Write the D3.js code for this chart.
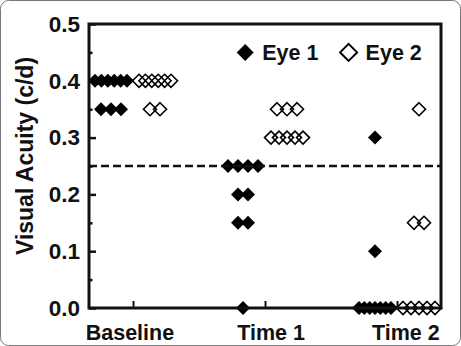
<!DOCTYPE html>
<meta charset="utf-8">
<style>
body { margin: 0; background: #fff; }
svg { display: block; }
text { font-family: "Liberation Sans", Arial, sans-serif; font-weight: bold; fill: #111; }
</style>
<body>
<script src="https://d3js.org/d3.v7.min.js"></script>
<script>

// groups along the x axis
var categories = ["Baseline", "Time 1", "Time 2"];
var categoryPos = [1, 4, 7];

// visual acuity (c/d) per eye, one list per time point
var eye1 = [
  [0.4, 0.4, 0.4, 0.4, 0.4, 0.4, 0.35, 0.35, 0.35],
  [0.25, 0.25, 0.25, 0.25, 0.2, 0.2, 0.15, 0.15, 0.0],
  [0.3, 0.1, 0.0, 0.0, 0.0, 0.0, 0.0, 0.0, 0.0]
];
var eye2 = [
  [0.4, 0.4, 0.4, 0.4, 0.4, 0.4, 0.35, 0.35],
  [0.35, 0.35, 0.35, 0.3, 0.3, 0.3, 0.3, 0.3],
  [0.35, 0.15, 0.15, 0.0, 0.0, 0.0, 0.0, 0.0]
];

var threshold = 0.25;
var yTicks = [0, 0.1, 0.2, 0.3, 0.4, 0.5];
var yMinor = [0.05, 0.15, 0.25, 0.35, 0.45];

var width = 461, height = 346;
var margin = {top: 24, right: 20, bottom: 38, left: 89};

var svg = d3.select("body").append("svg")
    .attr("width", width)
    .attr("height", height);

// thin border round the picture
svg.append("rect")
    .attr("x", 0.5).attr("y", 0.5)
    .attr("width", width - 1).attr("height", height - 1)
    .attr("rx", 8)
    .attr("fill", "none")
    .attr("stroke", "#777");

var x = d3.scaleLinear().domain([0, 8]).range([margin.left, width - margin.right]);
var y = d3.scaleLinear().domain([0, 0.5]).range([height - margin.bottom, margin.top]);

var diamond = function(r) {
  return "M0," + (-r) + "L" + r + ",0L0," + r + "L" + (-r) + ",0Z";
};

// spread equal values side by side round the group centre
function layout(groups, shift) {
  var pts = [];
  groups.forEach(function(vals, gi) {
    var byVal = d3.group(vals, function(v) { return v; });
    byVal.forEach(function(list, v) {
      var n = list.length;
      var step = n > 1 ? Math.min(10, 32 / (n - 1)) : 0;
      list.forEach(function(_, i) {
        pts.push({
          cx: x(categoryPos[gi] + shift) + (i - (n - 1) / 2) * step,
          cy: y(v)
        });
      });
    });
  });
  return pts;
}

// y axis, major and minor ticks pointing inward
var yAxis = d3.axisLeft(y)
    .tickValues(yTicks)
    .tickSize(-7)
    .tickPadding(9)
    .tickFormat(d3.format(".1f"));

var gy = svg.append("g")
    .attr("transform", "translate(" + x(0) + ",0)")
    .call(yAxis);
gy.select(".domain").remove();
gy.selectAll(".tick line").attr("stroke", "#111").attr("stroke-width", 2.5);
gy.selectAll(".tick text").attr("font-size", 22.5).attr("font-family", null);

var gyMinor = svg.append("g")
    .attr("transform", "translate(" + x(0) + ",0)")
    .call(d3.axisLeft(y).tickValues(yMinor).tickSize(-3.5).tickFormat(""));
gyMinor.select(".domain").remove();
gyMinor.selectAll(".tick line").attr("stroke", "#111").attr("stroke-width", 2.5);

// x axis ticks
var gx = svg.append("g")
    .attr("transform", "translate(0," + y(0) + ")")
    .call(d3.axisBottom(x).tickValues(categoryPos).tickSize(-7).tickFormat(""));
gx.select(".domain").remove();
gx.selectAll(".tick line").attr("stroke", "#111").attr("stroke-width", 2);

var labelShift = [-0.07, 0.14, 0.2];
svg.append("g").selectAll("text")
    .data(categories)
    .enter().append("text")
    .attr("x", function(d, i) { return x(categoryPos[i] + labelShift[i]); })
    .attr("y", height - 6)
    .attr("text-anchor", "middle")
    .attr("font-size", 21.5)
    .text(function(d) { return d; });

svg.append("text")
    .attr("transform", "translate(33," + (y(0.25) - 10) + ") rotate(-90)")
    .attr("text-anchor", "middle")
    .attr("font-size", 23)
    .text("Visual Acuity (c/d)");

// points
svg.append("g").selectAll("path")
    .data(layout(eye1, -0.5))
    .enter().append("path")
    .attr("d", diamond(7))
    .attr("transform", function(d) { return "translate(" + d.cx + "," + d.cy + ")"; })
    .attr("fill", "#000");

svg.append("g").selectAll("path")
    .data(layout(eye2, 0.5))
    .enter().append("path")
    .attr("d", diamond(6.5))
    .attr("transform", function(d) { return "translate(" + d.cx + "," + d.cy + ")"; })
    .attr("fill", "none")
    .attr("stroke", "#000")
    .attr("stroke-width", 1.6);

// threshold line
svg.append("line")
    .attr("x1", x(0)).attr("x2", x(8))
    .attr("y1", y(threshold)).attr("y2", y(threshold))
    .attr("stroke", "#111")
    .attr("stroke-width", 2.5)
    .attr("stroke-dasharray", "8,4");

// frame
svg.append("rect")
    .attr("x", x(0)).attr("y", y(0.5))
    .attr("width", x(8) - x(0)).attr("height", y(0) - y(0.5))
    .attr("fill", "none")
    .attr("stroke", "#111")
    .attr("stroke-width", 3);

// legend
var legend = [
  {label: "Eye 1", filled: true, pos: 3.55},
  {label: "Eye 2", filled: false, pos: 5.9}
];
var lg = svg.append("g").selectAll("g")
    .data(legend)
    .enter().append("g")
    .attr("transform", function(d) { return "translate(" + x(d.pos) + "," + y(0.45) + ")"; });
lg.append("path")
    .attr("d", diamond(8.5))
    .attr("fill", function(d) { return d.filled ? "#000" : "none"; })
    .attr("stroke", "#000")
    .attr("stroke-width", function(d) { return d.filled ? 0 : 2; });
lg.append("text")
    .attr("x", 17)
    .attr("y", 8)
    .attr("font-size", 21.5)
    .text(function(d) { return d.label; });

</script>
</body>
